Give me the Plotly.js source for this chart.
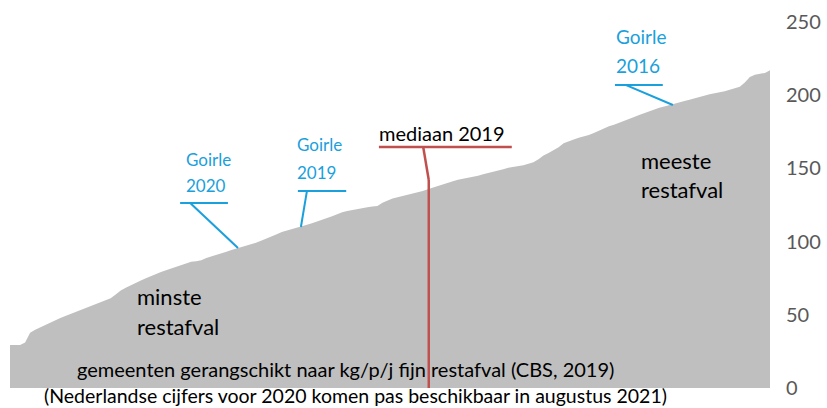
<!DOCTYPE html>
<html>
<head>
<meta charset="utf-8">
<script src="https://cdn.plot.ly/plotly-3.0.1.min.js"></script>
<style>html,body{margin:0;padding:0;background:#fff}#chart{width:827px;height:408px}</style>
</head>
<body>
<div id="chart"></div>
<script>
const restafval = [
  29.4, 29.4, 29.4, 31.0, 37.8, 39.8, 41.5, 43.0, 44.8, 46.5,
  47.8, 49.2, 50.6, 51.8, 53.2, 54.5, 56.0, 57.4, 58.8, 60.0,
  61.3, 63.8, 66.6, 68.4, 70.2, 71.8, 73.4, 75.0, 76.5, 77.9,
  79.2, 80.4, 81.6, 82.8, 84.0, 85.4, 86.2, 86.5, 87.2, 88.8,
  90.0, 91.0, 92.1, 93.1, 94.2, 95.2, 96.1, 97.0, 98.1, 99.3,
  100.8, 102.4, 103.7, 105.1, 106.5, 107.6, 108.6, 109.6, 110.5, 111.5,
  112.5, 113.9, 115.1, 116.2, 117.4, 118.8, 120.1, 120.9, 121.6, 122.4,
  122.9, 123.4, 123.9, 124.4, 126.6, 128.2, 129.5, 130.3, 131.1, 131.9,
  132.8, 133.6, 134.5, 135.7, 136.9, 138.1, 139.2, 140.2, 141.2, 142.2,
  142.8, 143.4, 144.0, 145.0, 146.0, 147.0, 147.9, 148.7, 149.5, 150.4,
  150.9, 151.4, 152.1, 153.1, 154.2, 156.2, 158.8, 160.5, 162.3, 164.5,
  167.1, 168.6, 169.8, 170.9, 171.8, 172.8, 174.2, 175.8, 177.4, 178.8,
  179.9, 181.1, 182.4, 183.8, 185.1, 186.5, 187.8, 189.1, 190.4, 191.4,
  192.3, 193.1, 193.9, 195.0, 196.0, 196.9, 197.9, 198.9, 200.0, 200.7,
  201.3, 201.9, 202.7, 203.7, 204.6, 205.8, 208.7, 212.4, 214.0, 214.6,
  215.2, 217.0
];
const rang = restafval.map((v, i) => i);
const yTicks = [0, 50, 100, 150, 200, 250];
const yTickLabels = ["0", "50", "100", "150", "200", "250"];

const labelTexts = {
  onder: "gemeenten gerangschikt naar kg/p/j fijn restafval (CBS, 2019)",
  noot: "(Nederlandse cijfers voor 2020 komen pas beschikbaar in augustus 2021)",
  minste: ["minste", "restafval"],
  meeste: ["meeste", "restafval"],
  mediaan: "mediaan 2019",
  g2020: ["Goirle", "2020"],
  g2019: ["Goirle", "2019"],
  g2016: ["Goirle", "2016"]
};

const FONT = "Lato, 'Noto Sans', sans-serif";
const BLUE = "#1AA0DC";
const RED = "#C0504D";

const trace = {
  type: "scatter",
  mode: "lines",
  x: rang,
  y: restafval,
  fill: "tozeroy",
  fillcolor: "#BFBFBF",
  line: {width: 0, color: "#BFBFBF"},
  hoverinfo: "skip"
};

function txt(x, y, t, size, color, anchor) {
  return {x: x, y: y, xref: "x", yref: "y", text: t, showarrow: false,
    xanchor: anchor || "left", yanchor: "middle",
    font: {family: FONT, size: size, color: color || "#000"}};
}
function seg(x0, y0, x1, y1, color, w) {
  return {type: "line", xref: "x", yref: "y", x0: x0, y0: y0, x1: x1, y1: y1,
    line: {color: color, width: w}};
}

const annotations = [
  txt(66.6, 13.0, labelTexts.onder, 20, "#000", "center"),
  {x: 0.455, y: -0.0215, xref: "paper", yref: "paper", text: labelTexts.noot,
    showarrow: false, xanchor: "center", yanchor: "middle", borderpad: 0,
    font: {family: FONT, size: 19.5, color: "#000"}},
  txt(24.8, 62.2, labelTexts.minste[0], 22),
  txt(24.8, 42.3, labelTexts.minste[1], 22),
  txt(125.0, 155.1, labelTexts.meeste[0], 22),
  txt(125.0, 135.9, labelTexts.meeste[1], 22),
  txt(72.9, 174.2, labelTexts.mediaan, 20),
  txt(34.6, 156.4, labelTexts.g2020[0], 17, BLUE),
  txt(34.6, 138.0, labelTexts.g2020[1], 17, BLUE),
  txt(56.6, 166.0, labelTexts.g2019[0], 17, BLUE),
  txt(56.6, 146.9, labelTexts.g2019[1], 17, BLUE),
  txt(120.0, 239.8, labelTexts.g2016[0], 19, BLUE),
  txt(120.0, 220.6, labelTexts.g2016[1], 19, BLUE)
];

const shapes = [
  seg(33.8, 126.4, 43.3, 126.4, BLUE, 2),
  seg(35.8, 126.4, 45.3, 95.6, BLUE, 2),
  seg(57.2, 134.6, 66.8, 134.6, BLUE, 2),
  seg(59.0, 134.6, 57.8, 110.0, BLUE, 2),
  seg(120.2, 207.0, 129.7, 207.0, BLUE, 2),
  seg(122.3, 207.0, 131.7, 193.3, BLUE, 2),
  seg(73.3, 164.6, 99.7, 164.6, RED, 2.5),
  seg(82.1, 164.6, 83.2, 142.1, RED, 2.5),
  seg(83.2, 142.1, 83.2, 0, RED, 2.5)
];

const layout = {
  width: 827, height: 408,
  margin: {l: 10, r: 57, t: 22, b: 20},
  paper_bgcolor: "#fff", plot_bgcolor: "#fff",
  showlegend: false,
  xaxis: {range: [0, restafval.length - 1], visible: false, fixedrange: true},
  yaxis: {range: [0, 250], side: "right", tickvals: yTicks, ticktext: yTickLabels,
    showgrid: false, zeroline: false, showline: false, ticks: "",
    ticklabelstandoff: 15,
    tickfont: {family: FONT, size: 20, color: "#595959"}, fixedrange: true},
  annotations: annotations,
  shapes: shapes
};

Plotly.newPlot("chart", [trace], layout, {displayModeBar: false, staticPlot: true});
</script>
</body>
</html>
